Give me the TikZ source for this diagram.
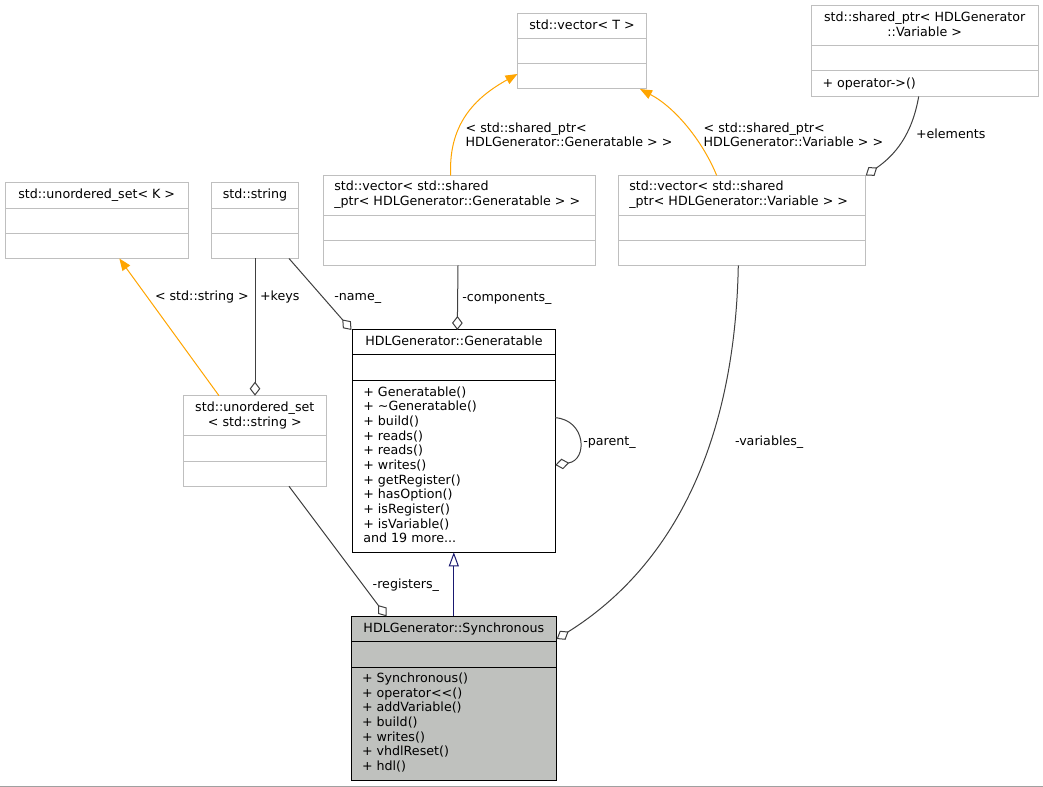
\documentclass[tikz,border=0pt]{standalone}
\usepackage{fontspec}
\setmainfont{DejaVu Sans}
\usetikzlibrary{arrows.meta,fit}
\definecolor{edgegray}{HTML}{404040}
\definecolor{boxgray}{HTML}{BFBFBF}
\definecolor{syncfill}{HTML}{BFC1BE}
\definecolor{navyline}{HTML}{191970}
\definecolor{orangeline}{HTML}{FFA500}
\definecolor{bottomgray}{HTML}{A0A0A0}
\newcommand\classbox[8]{%
  \node[#1, fit={(#3,#4)(#5,#6)}] (#2) {};
  \draw[#1 sep] (#3,#7) -- (#5,#7) (#3,#8) -- (#5,#8);
}
\begin{document}
\begin{tikzpicture}[x=0.75pt,y=-0.75pt,
  every node/.style={inner sep=0pt, outer sep=0pt},
  txt/.style={font=\fontsize{9.5}{11}\selectfont, anchor=base},
  ltxt/.style={txt, anchor=base west},
  extbox/.style={draw=boxgray, fill=white, line width=0.75pt, inner sep=0pt},
  extbox sep/.style={draw=boxgray, line width=0.75pt},
  genbox/.style={draw=black, fill=white, line width=0.75pt, inner sep=0pt},
  genbox sep/.style={draw=black, line width=0.75pt},
  syncbox/.style={draw=black, fill=syncfill, line width=0.75pt, inner sep=0pt},
  syncbox sep/.style={draw=black, line width=0.75pt},
  member/.style={draw=edgegray, line width=0.75pt, -{Diamond[length=10.5pt,width=8pt,fill=white]}},
  tmpl/.style={draw=orangeline, line width=0.75pt, -{Triangle[length=9pt,width=7pt]}},
  inherit/.style={draw=navyline, line width=0.75pt, -{Triangle[length=10.5pt,width=7.5pt,fill=white]}}
]
\fill[white] (0,0) rectangle (1043,787);
\useasboundingbox (0,0) rectangle (1043,787);
\draw[bottomgray, line width=0.9pt] (0,786.4) -- (1043,786.4);

% ---------- boxes ----------
\classbox{extbox}{vecT}{517.5}{13.5}{646.5}{89}{38.5}{63.5}
\node[txt] (vecTt) at (582,29.5) {std::vector< T >};

\classbox{extbox}{sptr}{811.5}{6}{1038}{96.5}{45.5}{71}
\node[txt] (sptrt1) at (924.7,22) {std::shared\_ptr< HDLGenerator};
\node[txt] (sptrt2) at (924.7,36.8) {::Variable >};
\node[ltxt] (sptrm) at (822.5,87.3) {+ operator->()};

\classbox{extbox}{usetK}{5}{183}{188.5}{258.5}{208.3}{233.3}
\node[txt] (usetKt) at (96.7,199) {std::unordered\_set< K >};

\classbox{extbox}{str}{211.5}{183}{298.5}{258.5}{208.3}{233.3}
\node[txt] (strt) at (255,199) {std::string};

\classbox{extbox}{vecG}{323.5}{175.5}{595.5}{265.5}{215.3}{240.3}
\node[ltxt] (vecGt1) at (334.3,190.8) {std::vector< std::shared};
\node[ltxt] (vecGt2) at (334.3,205.6) {\_ptr< HDLGenerator::Generatable > >};

\classbox{extbox}{vecV}{618.5}{175.5}{865.5}{265.5}{215.3}{240.3}
\node[ltxt] (vecVt1) at (629.3,190.8) {std::vector< std::shared};
\node[ltxt] (vecVt2) at (629.3,205.6) {\_ptr< HDLGenerator::Variable > >};

\classbox{genbox}{gen}{352.7}{330}{555.3}{552.3}{354.7}{380.7}
\node[txt] (gent) at (454,346) {HDLGenerator::Generatable};
\foreach \t [count=\i from 0] in {+ Generatable(), + \textasciitilde Generatable(), + build(), + reads(), + reads(), + writes(), + getRegister(), + hasOption(), + isRegister(), + isVariable()}
  \node[ltxt] (gm\i) at (363.3,396.3+\i*14.67) {\t};
\node[ltxt] (gm10) at (363.3,543) {and 19 more...};

\classbox{extbox}{usetS}{183.3}{395.7}{326.3}{486.3}{436}{461.3}
\node[txt] (usetSt1) at (254.8,411.8) {std::unordered\_set};
\node[txt] (usetSt2) at (254.8,426.2) {< std::string >};

\classbox{syncbox}{sync}{351}{616.3}{556.7}{780.3}{641.7}{667.3}
\node[txt] (synct) at (453.8,632.8) {HDLGenerator::Synchronous};
\foreach \t [count=\i from 0] in {+ Synchronous(), + operator<{}<(), + addVariable(), + build(), + writes(), + vhdlReset(), + hdl()}
  \node[ltxt] (sm\i) at (362,682.6+\i*14.62) {\t};

% ---------- connector end points ----------
\coordinate (vecGtop) at (450.7,175.5);
\coordinate (vecTleft) at (517.5,74);
\coordinate (vecVtop) at (716.7,175.5);
\coordinate (vecTbot) at (640,89);
\coordinate (sptrbot) at (918.7,96.5);
\coordinate (vecVcorner) at (865.7,175.5);
\coordinate (usetStop) at (219,395.7);
\coordinate (usetKbot) at (119.3,258.5);
\coordinate (strbot) at (255,258.5);
\coordinate (usetSdia) at (255,395.7);
\coordinate (strbr) at (289,258.5);
\coordinate (gentl) at (351.5,330);
\coordinate (vecGbot) at (458,265.5);
\coordinate (gentop) at (457.3,330);
\coordinate (genr1) at (555.3,417.7);
\coordinate (genr2) at (555.3,465);
\coordinate (usetSbot) at (289,486.3);
\coordinate (synctop) at (386.5,616.3);
\coordinate (syncmid) at (453.8,616.3);
\coordinate (genbot) at (453.8,552.3);
\coordinate (vecVbot) at (738.3,265.5);
\coordinate (syncright) at (556.7,639);

% ---------- connectors ----------
\draw[tmpl] (vecGtop) .. controls (448,120) and (480,95) .. (vecTleft);
\draw[tmpl] (vecVtop) .. controls (703,142) and (676,108) .. (vecTbot);
\draw[member] (sptrbot) .. controls (912,135) and (895,155) .. (vecVcorner);
\draw[tmpl] (usetStop) -- (usetKbot);
\draw[member] (strbot) -- (usetSdia);
\draw[member] (strbr) -- (gentl);
\draw[member] (vecGbot) -- (gentop);
\draw[member] (genr1) .. controls (586,420) and (588,460) .. (genr2);
\draw[member] (usetSbot) -- (synctop);
\draw[inherit] (syncmid) -- (genbot);
\draw[member] (vecVbot) .. controls (735,440) and (675,565) .. (syncright);

% ---------- labels ----------
\node[ltxt] (lvg1) at (465.7,132.2) {< std::shared\_ptr<};
\node[ltxt] (lvg2) at (465.7,146.2) {HDLGenerator::Generatable > >};
\node[ltxt] (lvv1) at (703.7,132.2) {< std::shared\_ptr<};
\node[ltxt] (lvv2) at (703.7,146.5) {HDLGenerator::Variable > >};
\node[ltxt] (lel) at (916,138.8) {+elements};
\node[ltxt] (lstr) at (155,300.8) {< std::string >};
\node[ltxt] (lkeys) at (260,300.8) {+keys};
\node[ltxt] (lname) at (334.3,300.8) {-name\_};
\node[ltxt] (lcomp) at (462.3,301.2) {-components\_};
\node[ltxt] (lpar) at (583.3,445.2) {-parent\_};
\node[ltxt] (lvar) at (735,445.2) {-variables\_};
\node[ltxt] (lreg) at (372.7,588.5) {-registers\_};
\end{tikzpicture}
\end{document}
